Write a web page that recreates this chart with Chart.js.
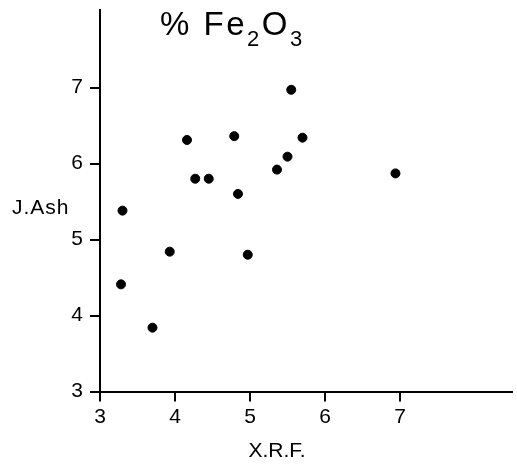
<!DOCTYPE html>
<html>
<head>
<meta charset="utf-8">
<script src="https://cdn.jsdelivr.net/npm/chart.js@4/dist/chart.umd.min.js"></script>
<style>
  html, body { margin: 0; padding: 0; background: #fff; overflow: hidden; }
  canvas { display: block; }
</style>
</head>
<body>
<canvas id="chart" width="517" height="470"></canvas>
<script>
// X.R.F. vs J.Ash values for % Fe2O3
const xrf = [5.55, 4.16, 4.79, 5.70, 5.50, 5.36, 4.27, 4.45, 6.94, 4.84, 4.97, 3.30, 3.93, 3.28, 3.70];
const jAsh = [6.97, 6.31, 6.36, 6.34, 6.09, 5.92, 5.80, 5.80, 5.87, 5.60, 4.80, 5.38, 4.84, 4.41, 3.84];
const xTicks = [3, 4, 5, 6, 7];
const yTicks = [3, 4, 5, 6, 7];

const FONT = '"Liberation Sans", Arial, sans-serif';

const labels = {
  id: 'labels',
  afterDraw(chart) {
    const ctx = chart.ctx;
    ctx.save();
    ctx.fillStyle = '#000';
    ctx.textBaseline = 'alphabetic';
    ctx.textAlign = 'left';
    // title with subscripts
    ctx.letterSpacing = '2.5px';
    let x = 160;
    const base = 35;
    const parts = [['% Fe', 33, 0], ['2', 22, 11], ['O', 33, 0], ['3', 22, 11]];
    parts.forEach(([t, size, dy]) => {
      ctx.font = size + 'px ' + FONT;
      ctx.fillText(t, x, base + dy);
      x += ctx.measureText(t).width;
    });
    ctx.letterSpacing = '1px';
    ctx.font = '21px ' + FONT;
    ctx.textBaseline = 'middle';
    ctx.fillText('J.Ash', 12, 208);
    ctx.letterSpacing = '0px';
    ctx.textAlign = 'center';
    ctx.fillText('X.R.F.', 277, 451);
    ctx.restore();
  }
};

new Chart(document.getElementById('chart'), {
  type: 'scatter',
  data: {
    datasets: [{
      data: xrf.map((v, i) => ({ x: v, y: jAsh[i] })),
      backgroundColor: '#000',
      borderColor: '#000',
      pointRadius: 4.5,
      pointHoverRadius: 4.5
    }]
  },
  options: {
    responsive: false,
    animation: false,
    layout: { padding: { top: 10, right: 0, left: 0, bottom: 0 } },
    plugins: { legend: { display: false }, tooltip: { enabled: false } },
    scales: {
      x: {
        type: 'linear',
        min: 3,
        max: 8.487,
        afterBuildTicks: s => { s.ticks = xTicks.map(v => ({ value: v })); },
        afterFit: s => { s.height = 78.5; },
        border: { color: '#000', width: 2 },
        grid: { drawOnChartArea: false, drawTicks: true, tickLength: 10, color: '#000', lineWidth: 2 },
        ticks: { color: '#000', font: { family: FONT, size: 21 }, padding: 3, maxRotation: 0 }
      },
      y: {
        type: 'linear',
        min: 3,
        max: 8.02,
        afterBuildTicks: s => { s.ticks = yTicks.map(v => ({ value: v })); },
        afterFit: s => { s.width = 100; s.paddingTop = 0; s.paddingBottom = 0; },
        border: { color: '#000', width: 2 },
        grid: { drawOnChartArea: false, drawTicks: true, tickLength: 10, color: '#000', lineWidth: 2 },
        ticks: { color: '#000', font: { family: FONT, size: 21 }, padding: 7 }
      }
    }
  },
  plugins: [labels]
});
</script>
</body>
</html>
